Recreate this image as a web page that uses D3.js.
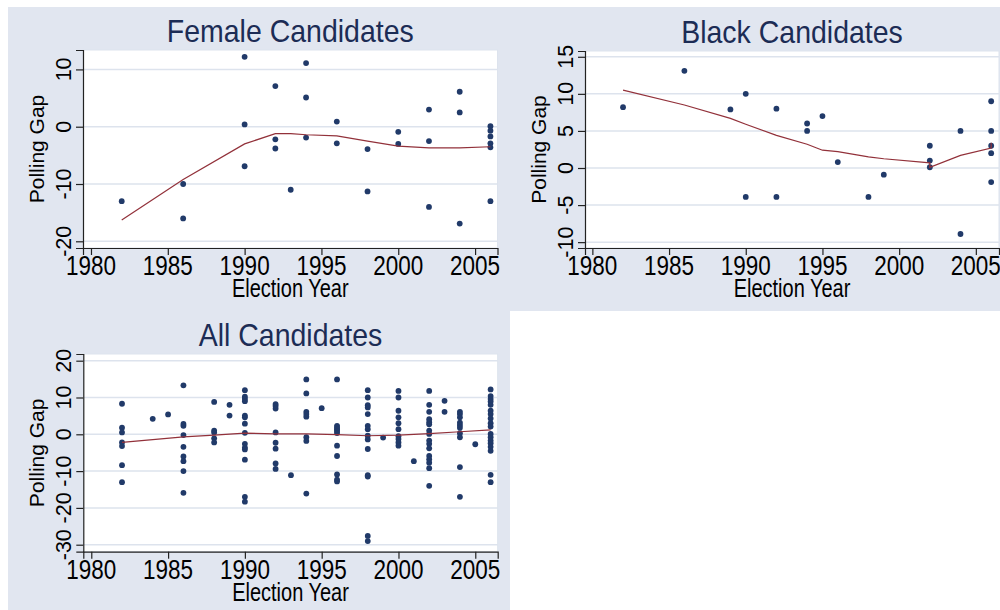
<!DOCTYPE html>
<html>
<head>
<meta charset="utf-8">
<script src="https://cdn.jsdelivr.net/npm/d3@7"></script>
<style>
body { margin: 0; background: #fff; }
svg { display: block; }
text { font-family: 'Liberation Sans', Arial, sans-serif; }
</style>
</head>
<body>
<svg id="chart" width="1000" height="610"></svg>
<script>
var yearTicks = [1980, 1985, 1990, 1995, 2000, 2005]

// polling gap by election year, one entry per year
var femalePoints = [
    [1982, [-13.0]],
    [1986, [-10.0, -16.0]],
    [1990, [12.2, 0.4, -6.9]],
    [1992, [7.1, -2.2, -3.8]],
    [1993, [-11.0]],
    [1994, [11.1, 5.1, -1.9]],
    [1996, [0.9, -2.9]],
    [1998, [-3.9, -11.3]],
    [2000, [-0.9, -3.0]],
    [2002, [3.0, -2.5, -14.0]],
    [2004, [6.1, 2.5, -16.9]],
    [2006, [0.1, -0.7, -1.7, -2.9, -3.6, -13.0]]
]
var femaleFit = [
    [1982, -16.3], [1986, -9.2], [1990, -3.0], [1992, -1.2], [1993, -1.2], [1994, -1.4],
    [1996, -1.6], [1998, -2.5], [2000, -3.4], [2002, -3.7], [2004, -3.7], [2006, -3.5]
]
var femaleTicks = [-20, -10, 0, 10]

var blackPoints = [
    [1982, [8.2]],
    [1986, [13.1]],
    [1989, [7.9]],
    [1990, [10.0, -3.9]],
    [1992, [8.0, -3.9]],
    [1994, [6.0, 5.0]],
    [1995, [7.0]],
    [1996, [0.8]],
    [1998, [-3.9]],
    [1999, [-0.9]],
    [2002, [3.0, 1.0, 0.1]],
    [2004, [5.0, -8.9]],
    [2006, [9.0, 5.0, 3.0, 2.0, -1.9]]
]
var blackFit = [
    [1982, 10.5], [1986, 8.5], [1989, 6.7], [1990, 5.9], [1992, 4.4], [1994, 3.2], [1995, 2.4],
    [1996, 2.2], [1998, 1.5], [1999, 1.25], [2002, 0.7], [2002, 0.1], [2004, 1.7], [2006, 2.7], [2006, 3.4]
]
var blackTicks = [-10, -5, 0, 5, 10, 15]

var allPoints = [
    [1982, [8.3, 1.8, 0.5, -2.2, -3.2, -8.4, -13.0]],
    [1984, [4.2]],
    [1985, [5.4]],
    [1986, [13.3, 2.8, 2.3, -0.2, -3.4, -6.0, -7.3, -10.0, -15.9]],
    [1988, [8.8, 1.0, 0.5, -1.1, -2.2]],
    [1989, [8.0, 5.1]],
    [1990, [12.0, 10.2, 9.6, 9.0, 5.1, 4.6, 2.9, 0.4, -2.6, -3.6, -4.1, -6.9, -17.0, -18.3]],
    [1992, [8.2, 7.7, 7.0, 0.5, -2.3, -3.9, -7.9, -9.4]],
    [1993, [-11.1]],
    [1994, [14.9, 11.1, 6.1, 5.5, 4.8, -0.8, -1.8, -16.1]],
    [1995, [7.1]],
    [1996, [14.9, 2.3, 1.8, 1.4, 0.9, 0.35, -3.1, -5.9, -10.9, -12.3, -12.8]],
    [1998, [12.0, 10.0, 7.9, 7.3, 5.5, 2.3, 1.4, -0.4, -1.4, -4.0, -11.1, -11.5, -27.6, -29.0]],
    [1999, [-0.9]],
    [2000, [11.8, 10.0, 6.4, 4.6, 3.0, 1.4, -0.5, -1.3, -2.2, -3.1]],
    [2001, [-7.3]],
    [2002, [11.8, 8.0, 6.1, 4.1, 3.3, 2.7, 1.0, 0.1, -1.7, -2.6, -3.8, -5.9, -6.8, -7.7, -9.2, -14.0]],
    [2003, [9.1, 6.1]],
    [2004, [6.1, 5.5, 4.6, 3.2, 2.5, 1.8, 0.3, -0.8, -8.9, -17.0]],
    [2005, [-2.7]],
    [2006, [12.2, 10.4, 9.6, 8.9, 8.0, 6.4, 5.5, 4.3, 3.0, 2.1, 0.1, -0.8, -1.7, -2.4, -3.4, -4.5, -11.0, -13.0]]
]
var allFit = [
    [1982, -2.2], [1986, -0.7], [1988, -0.2], [1990, 0.3], [1992, 0.1], [1994, 0.1],
    [1996, -0.1], [1998, -0.4], [2000, -0.2], [2002, 0.2], [2004, 0.7], [2006, 1.2]
]
var allTicks = [-30, -20, -10, 0, 10, 20]

var panels = [
    {title: 'Female Candidates', points: femalePoints, fit: femaleFit, ticks: femaleTicks,
        left: 83, right: 497.5, top: 50, bottom: 248, xdom: [1979.48, 2006.46], ydom: [-21.17, 13.39]},
    {title: 'Black Candidates', points: blackPoints, fit: blackFit, ticks: blackTicks,
        left: 585, right: 999, top: 51, bottom: 248, xdom: [1979.52, 2006.51], ydom: [-10.79, 15.78]},
    {title: 'All Candidates', points: allPoints, fit: allFit, ticks: allTicks,
        left: 83.3, right: 497.7, top: 354, bottom: 551.7, xdom: [1979.48, 2006.46], ydom: [-31.9, 21.82]}
]

var bg = '#e1e6f0'
var grid = '#dde3ed'
var navy = '#213a69'
var maroon = '#92313a'

var svg = d3.select('#chart')

// graph region, bottom right cell left empty
svg.append('rect').attr('x', 8).attr('y', 7).attr('width', 992).attr('height', 304).style('fill', bg)
svg.append('rect').attr('x', 8).attr('y', 311).attr('width', 502).attr('height', 299).style('fill', bg)

panels.forEach(function(p) {
    var x = d3.scaleLinear().domain(p.xdom).range([p.left, p.right])
    var y = d3.scaleLinear().domain(p.ydom).range([p.bottom, p.top])
    var g = svg.append('g')

    g.append('rect')
        .attr('x', p.left).attr('y', p.top)
        .attr('width', p.right - p.left).attr('height', p.bottom - p.top)
        .style('fill', '#fff')
        .style('stroke', grid)
        .style('stroke-width', 1)

    g.selectAll('.grid')
        .data(p.ticks)
        .enter()
        .append('line')
        .attr('x1', p.left).attr('x2', p.right)
        .attr('y1', function(d) { return y(d) })
        .attr('y2', function(d) { return y(d) })
        .style('stroke', grid)
        .style('stroke-width', 1.5)

    var xAxis = g.append('g')
        .attr('transform', 'translate(0,' + p.bottom + ')')
        .call(d3.axisBottom(x).tickValues(yearTicks).tickSize(7).tickFormat(''))
    var yAxis = g.append('g')
        .attr('transform', 'translate(' + p.left + ',0)')
        .call(d3.axisLeft(y).tickValues(p.ticks).tickSize(7).tickFormat(''))
    ;[xAxis, yAxis].forEach(function(a) {
        a.select('.domain').style('stroke', '#222').style('stroke-width', 1.2)
        a.selectAll('.tick line').style('stroke', '#222').style('stroke-width', 1.2)
    })

    // tick labels, drawn by hand so they can be stretched like the original
    g.selectAll('.xlab')
        .data(yearTicks)
        .enter()
        .append('text')
        .attr('transform', function(d) {
            return 'translate(' + x(d) + ',' + (p.bottom + 27) + ') scale(1,1.22)'
        })
        .attr('text-anchor', 'middle')
        .style('font-size', '22.5px')
        .style('fill', '#000')
        .text(function(d) { return d })

    g.selectAll('.ylab')
        .data(p.ticks)
        .enter()
        .append('text')
        .attr('transform', function(d) {
            return 'translate(' + (p.left - 12) + ',' + y(d) + ') rotate(-90) scale(1,1.05)'
        })
        .attr('text-anchor', 'middle')
        .style('font-size', '21.5px')
        .style('fill', '#000')
        .text(function(d) { return d })

    var cx = (p.left + p.right) / 2
    g.append('text')
        .attr('transform', 'translate(' + cx + ',' + (p.top - 8) + ') scale(1,1.1)')
        .attr('text-anchor', 'middle')
        .style('font-size', '28.5px')
        .style('fill', '#1c2c55')
        .text(p.title)

    g.append('text')
        .attr('transform', 'translate(' + cx + ',' + (p.bottom + 49) + ') scale(1,1.25)')
        .attr('text-anchor', 'middle')
        .style('font-size', '20px')
        .style('fill', '#000')
        .text('Election Year')

    g.append('text')
        .attr('transform', 'translate(' + (p.left - 39) + ',' + ((p.top + p.bottom) / 2) + ') rotate(-90)')
        .attr('text-anchor', 'middle')
        .style('font-size', '21px')
        .style('fill', '#000')
        .text('Polling Gap')

    var dots = []
    p.points.forEach(function(row) {
        row[1].forEach(function(v) { dots.push([row[0], v]) })
    })
    g.selectAll('.dot')
        .data(dots)
        .enter()
        .append('circle')
        .attr('cx', function(d) { return x(d[0]) })
        .attr('cy', function(d) { return y(d[1]) })
        .attr('r', 2.9)
        .style('fill', navy)

    g.append('path')
        .datum(p.fit)
        .attr('d', d3.line()
            .x(function(d) { return x(d[0]) })
            .y(function(d) { return y(d[1]) }))
        .style('fill', 'none')
        .style('stroke', maroon)
        .style('stroke-width', 1.2)
})
</script>
</body>
</html>
